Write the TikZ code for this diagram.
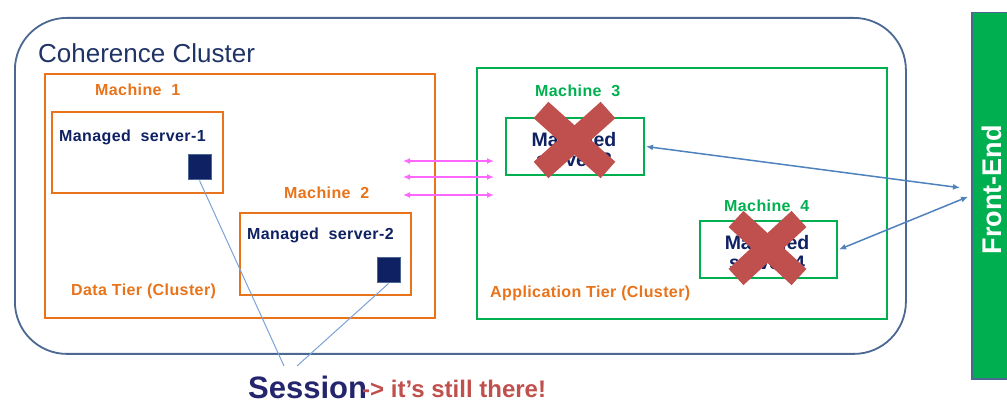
\documentclass[tikz,border=0pt]{standalone}
\usepackage{fontspec}
\setmainfont{Liberation Sans}
\newfontfamily\spacedsans[LetterSpace=2.5]{Liberation Sans}
\usetikzlibrary{arrows.meta}
\definecolor{clusterblue}{HTML}{4A6892}
\definecolor{srvnavy}{HTML}{0F2163}
\definecolor{titlenavy}{HTML}{1F3366}
\definecolor{tierorange}{HTML}{E8731A}
\definecolor{tiergreen}{HTML}{00B050}
\definecolor{crossred}{HTML}{C0504D}
\definecolor{linkpink}{HTML}{FF66FF}
\definecolor{linkblue}{HTML}{4F81BD}
\definecolor{sessionblue}{HTML}{7BA3D6}
\definecolor{sessionnavy}{HTML}{25256E}
\tikzset{
  orangebox/.style={draw=tierorange, line width=2pt, anchor=north west},
  greenbox/.style={draw=tiergreen, line width=2pt, anchor=north west},
  sessbox/.style={fill=srvnavy, draw=clusterblue, line width=1pt, minimum width=23pt, minimum height=25pt},
  orangelabel/.style={text=tierorange, anchor=base west, font=\spacedsans\bfseries\fontsize{16}{16}\selectfont},
  greenlabel/.style={text=tiergreen, anchor=base west, font=\spacedsans\bfseries\fontsize{16}{16}\selectfont},
  srvlabel/.style={text=srvnavy, anchor=base west, font=\spacedsans\bfseries\fontsize{16}{16}\selectfont},
  bigsrv/.style={text=srvnavy, align=center, font=\bfseries\fontsize{19.5}{20}\selectfont},
  crossbar/.style={crossred, line width=22pt},
  pinklink/.style={linkpink, line width=1.3pt, {Latex[length=7pt,width=6pt]}-{Latex[length=7pt,width=6pt]}},
  bluelink/.style={linkblue, line width=1.5pt, {Latex[length=7pt,width=6pt]}-{Latex[length=7pt,width=6pt]}},
  sessline/.style={sessionblue, line width=1pt}
}
\begin{document}
\begin{tikzpicture}[x=1pt,y=-1pt]
\tikzstyle{every node}+=[inner sep=0pt]
\useasboundingbox (0,0) rectangle (1007,403);
\node[draw=clusterblue, line width=1.8pt, rounded corners=52pt, minimum width=891pt, minimum height=336pt, anchor=north west] (cluster) at (14,17) {};
\node[text=titlenavy, anchor=base west, font=\fontsize{26}{26}\selectfont] (clustertitle) at (38,63) {Coherence Cluster};
\node[orangebox, minimum width=390pt, minimum height=244pt] (datatier) at (44,73) {};
\node[orangelabel] (mach1) at (95,96) {Machine\ \ 1};
\node[orangebox, minimum width=171pt, minimum height=81pt] (ms1) at (51,111) {};
\node[srvlabel] (ms1txt) at (59,142) {Managed\ \ server-1};
\node[sessbox] (sq1) at (199.5,167.5) {};
\node[orangelabel] (mach2) at (284,199) {Machine\ \ 2};
\node[orangebox, minimum width=171pt, minimum height=82pt] (ms2) at (239,212) {};
\node[srvlabel] (ms2txt) at (247,240) {Managed\ \ server-2};
\node[sessbox] (sq2) at (388.5,270.5) {};
\node[orangelabel] (datatxt) at (71,296) {Data Tier (Cluster)};
\node[greenbox, minimum width=410pt, minimum height=251pt] (apptier) at (476,67) {};
\node[greenlabel] (mach3) at (535,97) {Machine\ \ 3};
\node[greenbox, minimum width=138pt, minimum height=57pt] (ms3) at (505,117) {};
\node[bigsrv] (ms3txt) at (574,150) {Managed\\server-3};
\node[greenlabel] (mach4) at (724,212) {Machine\ \ 4};
\node[greenbox, minimum width=137pt, minimum height=57pt] (ms4) at (699,220) {};
\node[bigsrv] (ms4txt) at (767,253) {Managed\\server-4};
\node[orangelabel] (apptxt) at (490,298) {Application Tier (Cluster)};
\draw[crossbar] (541,110) -- (608,170);
\draw[crossbar] (608,110) -- (541,170);
\draw[crossbar] (736,219) -- (799,277);
\draw[crossbar] (799,219) -- (736,277);
\node[fill=tiergreen, draw=clusterblue, line width=1.5pt, minimum width=40pt, minimum height=366pt, anchor=north west] (fe) at (971,12) {};
\node[rotate=90, text=white, font=\bfseries\fontsize{27}{27}\selectfont] (fetxt) at (992,190) {Front-End};
\coordinate (pa1) at (403,161);
\coordinate (pb1) at (494,161);
\coordinate (pa2) at (403,177);
\coordinate (pb2) at (494,177);
\coordinate (pa3) at (403,195);
\coordinate (pb3) at (494,195);
\draw[pinklink] (pa1) -- (pb1);
\draw[pinklink] (pa2) -- (pb2);
\draw[pinklink] (pa3) -- (pb3);
\draw[bluelink] ([xshift=1pt]ms3.east) -- ([xshift=-11pt,yshift=8pt]fe.west);
\draw[bluelink] ([xshift=1pt]ms4.east) -- ([xshift=-3pt,yshift=-1pt]fe.west);
\node[text=sessionnavy, anchor=base west, font=\bfseries\fontsize{31}{31}\selectfont] (session) at (248,398) {Session};
\node[text=crossred, anchor=base west, font=\bfseries\fontsize{24}{24}\selectfont] (stillthere) at (362,397) {-> it’s still there!};
\coordinate (sessa) at (284,366);
\coordinate (sessb) at (297,366);
\draw[sessline] (sq1.south) -- (sessa);
\draw[sessline] (sq2.south) -- (sessb);
\end{tikzpicture}
\end{document}
